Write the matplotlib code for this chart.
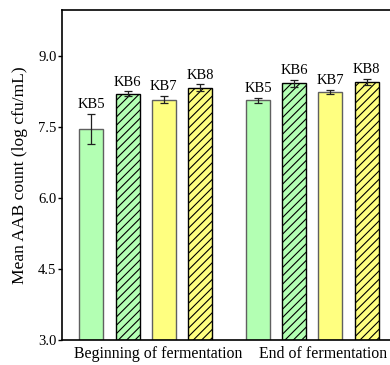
import matplotlib
matplotlib.use("Agg")
import matplotlib.pyplot as plt

plt.rcParams["font.family"] = ["Liberation Serif", "DejaVu Serif"]
plt.rcParams["hatch.linewidth"] = 0.8

# data
stages = ["Beginning of fermentation", "End of fermentation"]
samples = ["KB5", "KB6", "KB7", "KB8"]
means = {
    "Beginning of fermentation": [7.45, 8.20, 8.08, 8.33],
    "End of fermentation": [8.06, 8.42, 8.24, 8.45],
}
errs = {
    "Beginning of fermentation": [0.32, 0.05, 0.08, 0.07],
    "End of fermentation": [0.06, 0.08, 0.04, 0.06],
}
yticks = [3.0, 4.5, 6.0, 7.5, 9.0]

colors = ["#b3ffb3", "#b3ffb3", "#ffff80", "#ffff80"]
hatches = [None, "////", None, "////"]
edges = ["#606060", "black", "#606060", "black"]

fig = plt.figure(figsize=(3.9, 3.65), dpi=100)
ax = fig.add_axes([0.159, 0.0685, 0.86, 0.904])

group_start = [0.0, 4.6]
for g, stage in enumerate(stages):
    for i, s in enumerate(samples):
        x = group_start[g] + i
        m = means[stage][i]
        e = errs[stage][i]
        ax.bar(x, m - 3.0, bottom=3.0, width=0.66, color=colors[i],
               edgecolor=edges[i], hatch=hatches[i], linewidth=1.0, zorder=2)
        ax.errorbar(x, m, yerr=e, fmt="none", ecolor="#202020",
                    elinewidth=0.9, capsize=3, capthick=0.9, zorder=3)
        ax.text(x, m + e + 0.06, s, ha="center", va="bottom", fontsize=10.5)

ax.set_ylim(3.0, 9.97)
ax.set_xlim(-0.81, 8.45)
ax.set_yticks(yticks)
ax.set_yticklabels([f"{v:.1f}" for v in yticks], fontsize=10.5)
ax.set_xticks([1.85, 6.41])
ax.set_xticklabels(stages, fontsize=11.4)
ax.tick_params(axis="x", length=0, pad=4)
ax.tick_params(axis="y", length=3, width=1, pad=1)
ax.set_ylabel("Mean AAB count (log cfu/mL)", fontsize=12.6, labelpad=7)
for sp in ax.spines.values():
    sp.set_linewidth(1.2)

fig.savefig("out.png", dpi=100)
